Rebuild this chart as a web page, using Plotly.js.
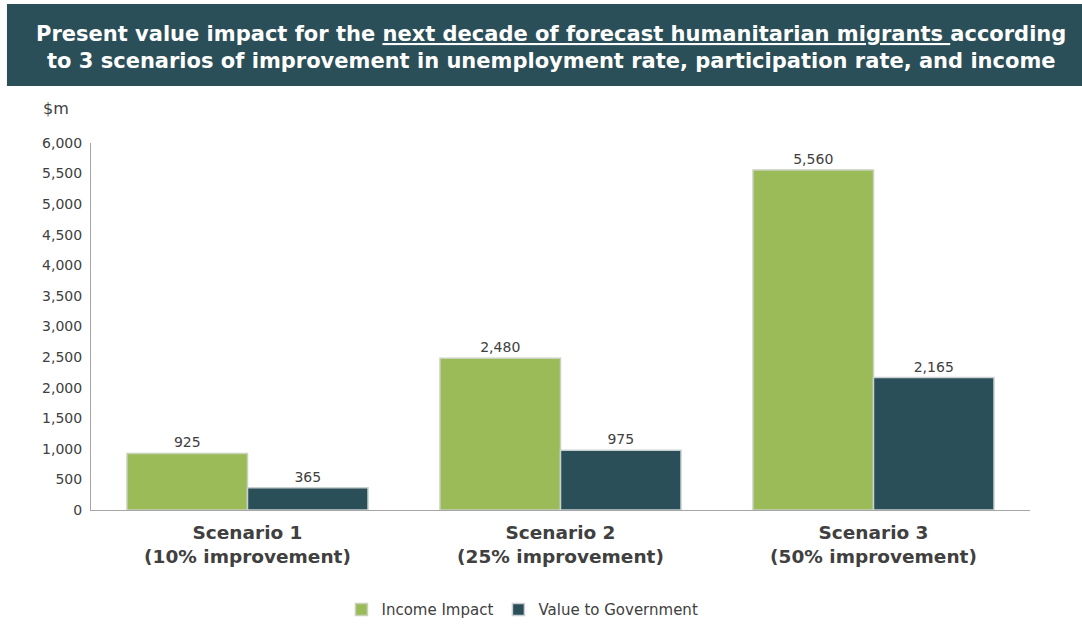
<!DOCTYPE html>
<html>
<head>
<meta charset="utf-8">
<script src="https://cdn.plot.ly/plotly-3.0.1.min.js"></script>
<style>html,body{margin:0;padding:0;background:#fff;}#chart{width:1082px;height:640px;}</style>
</head>
<body>
<div id="chart"></div>
<script>
const categories = ["<b>Scenario 1</b><br><b>(10% improvement)</b>", "<b>Scenario 2</b><br><b>(25% improvement)</b>", "<b>Scenario 3</b><br><b>(50% improvement)</b>"];
const incomeImpact = [925, 2480, 5560];
const valueToGovernment = [365, 975, 2165];
const seriesNames = ["Income Impact", "Value to Government"];
const tickValues = [0, 500, 1000, 1500, 2000, 2500, 3000, 3500, 4000, 4500, 5000, 5500, 6000];
const titleLines = [
  "<b>Present value impact for the <u>next decade of forecast humanitarian migrants </u>according</b>",
  "<b>to 3 scenarios of improvement in unemployment rate, participation rate, and income</b>"
];

const font = "DejaVu Sans, Verdana, sans-serif";
const traces = [
  {type: "bar", name: seriesNames[0], x: categories, y: incomeImpact,
   marker: {color: "#9bbb59", line: {color: "#c9d1bd", width: 1.5}},
   texttemplate: "%{y:,}", textposition: "outside", cliponaxis: false,
   textfont: {family: font, size: 14, color: "#404040"}},
  {type: "bar", name: seriesNames[1], x: categories, y: valueToGovernment,
   marker: {color: "#2b4f58", line: {color: "#c8d0d2", width: 1.5}},
   texttemplate: "%{y:,}", textposition: "outside", cliponaxis: false,
   textfont: {family: font, size: 14, color: "#404040"}}
];

const layout = {
  width: 1082, height: 640,
  margin: {l: 91, r: 52, t: 143, b: 130},
  paper_bgcolor: "#ffffff", plot_bgcolor: "#ffffff",
  font: {family: font, color: "#404040"},
  barmode: "group", bargap: 0.23, bargroupgap: 0,
  showlegend: true,
  legend: {orientation: "h", x: 0.4595, xanchor: "center", y: -0.272, yanchor: "middle",
           font: {family: font, size: 15, color: "#404040"}, traceorder: "normal"},
  xaxis: {showline: true, linecolor: "#a6a6a6", linewidth: 1, ticks: "", showgrid: false,
          ticklabelstandoff: 6,
          tickfont: {family: font, size: 18.5, color: "#404040"}},
  yaxis: {range: [0, 6000], tickvals: tickValues, tickformat: ",", showgrid: false,
          showline: true, linecolor: "#a6a6a6", linewidth: 1, ticks: "", zeroline: false,
          ticklabelstandoff: 5,
          tickfont: {family: font, size: 14, color: "#404040"}},
  shapes: [{type: "rect", xref: "paper", yref: "paper", x0: -0.0895, x1: 1.0554,
            y0: 1.1553, y1: 1.3787, fillcolor: "#2b4f58", line: {width: 0}, layer: "below"}],
  annotations: [
    {xref: "paper", yref: "paper", x: 0.4899, y: 1.296, xanchor: "center", yanchor: "middle", showarrow: false,
     text: titleLines[0], font: {family: font, size: 21, color: "#ffffff"}},
    {xref: "paper", yref: "paper", x: 0.4899, y: 1.2234, xanchor: "center", yanchor: "middle", showarrow: false,
     text: titleLines[1], font: {family: font, size: 21, color: "#ffffff"}},
    {xref: "paper", yref: "paper", x: -0.053, y: 1.094, xanchor: "left", yanchor: "middle", showarrow: false,
     text: "$m", font: {family: font, size: 16, color: "#404040"}}
  ]
};

Plotly.newPlot("chart", traces, layout, {displayModeBar: false, staticPlot: true});
</script>
</body>
</html>
